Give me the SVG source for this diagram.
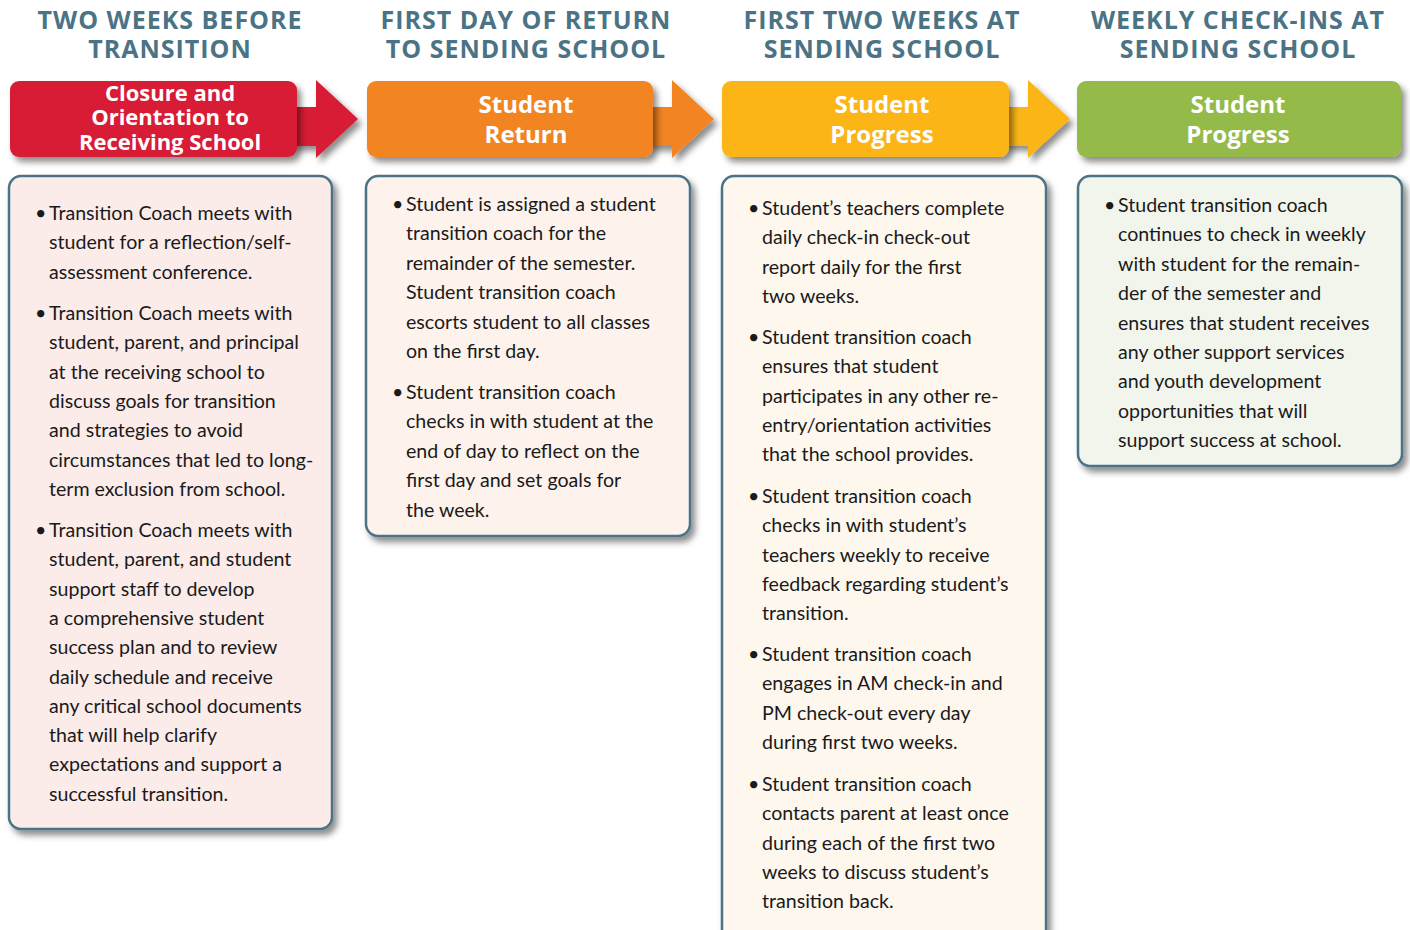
<svg xmlns="http://www.w3.org/2000/svg" width="1410" height="930" viewBox="0 0 1410 930">
<defs>
<filter id="sh" x="-10%" y="-10%" width="125%" height="130%">
<feDropShadow dx="4" dy="5" stdDeviation="3" flood-color="#000" flood-opacity="0.45"/>
</filter>
<style>
.ttl{font-family:"Open Sans","Liberation Sans",sans-serif;font-weight:700;font-size:25px;fill:#4b7386;text-anchor:middle;letter-spacing:1px}
.hd{font-family:"Open Sans","Liberation Sans",sans-serif;font-weight:700;fill:#fff;text-anchor:middle}
.bx{stroke:#4b7386;stroke-width:2.5}
.tx{font-family:Lato,"Liberation Sans",sans-serif;font-size:19.6px;fill:#1a1a1a}
</style>
</defs>
<rect width="1410" height="930" fill="#fff"/>

<g id="titles">
<text class="ttl" x="170" y="29">TWO WEEKS BEFORE<tspan x="170" y="58">TRANSITION</tspan></text>
<text class="ttl" x="526" y="29">FIRST DAY OF RETURN<tspan x="526" y="58">TO SENDING SCHOOL</tspan></text>
<text class="ttl" x="882" y="29">FIRST TWO WEEKS AT<tspan x="882" y="58">SENDING SCHOOL</tspan></text>
<text class="ttl" x="1238" y="29">WEEKLY CHECK-INS AT<tspan x="1238" y="58">SENDING SCHOOL</tspan></text>
</g>

<g id="connectors" filter="url(#sh)">
<path d="M290 107H316V80L358 119L316 158V146H290Z" fill="#d91a35"/>
<path d="M646 107H672V80L714 119L672 158V146H646Z" fill="#f28424"/>
<path d="M1002 107H1028V80L1070 119L1028 158V146H1002Z" fill="#fbb516"/>
</g>

<g id="stage1">
<rect x="10" y="81" width="287" height="76" rx="9" fill="#d91a35" filter="url(#sh)"/>
<text class="hd" font-size="22" x="170" y="101">Closure and<tspan x="170" y="125">Orientation to</tspan><tspan x="170" y="150">Receiving School</tspan></text>
</g>
<g id="stage2">
<rect x="367" y="81" width="286" height="76" rx="9" fill="#f28424" filter="url(#sh)"/>
<text class="hd" font-size="24" x="526" y="113">Student<tspan x="526" y="143">Return</tspan></text>
</g>
<g id="stage3">
<rect x="722" y="81" width="287" height="76" rx="9" fill="#fbb516" filter="url(#sh)"/>
<text class="hd" font-size="24" x="882" y="113">Student<tspan x="882" y="143">Progress</tspan></text>
</g>
<g id="stage4">
<rect x="1077" y="81" width="324" height="76" rx="9" fill="#94ba48" filter="url(#sh)"/>
<text class="hd" font-size="24" x="1238" y="113">Student<tspan x="1238" y="143">Progress</tspan></text>
</g>

<g id="box1">
<rect class="bx" x="9" y="176" width="323" height="653" rx="12" fill="#fbecea" filter="url(#sh)"/>
<text class="tx" x="35" y="220">•<tspan x="35" y="537">•</tspan><tspan x="35" y="320">•</tspan></text>
<text class="tx" x="49" y="220">Transition Coach meets with<tspan x="49" dy="29.3">student for a reflection/self-</tspan><tspan x="49" dy="29.3">assessment conference.</tspan><tspan x="49" y="320">Transition Coach meets with</tspan><tspan x="49" dy="29.3">student, parent, and principal</tspan><tspan x="49" dy="29.3">at the receiving school to</tspan><tspan x="49" dy="29.3">discuss goals for transition</tspan><tspan x="49" dy="29.3">and strategies to avoid</tspan><tspan x="49" dy="29.3">circumstances that led to long-</tspan><tspan x="49" dy="29.3">term exclusion from school.</tspan><tspan x="49" y="537">Transition Coach meets with</tspan><tspan x="49" dy="29.3">student, parent, and student</tspan><tspan x="49" dy="29.3">support staff to develop</tspan><tspan x="49" dy="29.3">a comprehensive student</tspan><tspan x="49" dy="29.3">success plan and to review</tspan><tspan x="49" dy="29.3">daily schedule and receive</tspan><tspan x="49" dy="29.3">any critical school documents</tspan><tspan x="49" dy="29.3">that will help clarify</tspan><tspan x="49" dy="29.3">expectations and support a</tspan><tspan x="49" dy="29.3">successful transition.</tspan></text>
</g>

<g id="box2">
<rect class="bx" x="366" y="176" width="324" height="360" rx="12" fill="#fdf3ec" filter="url(#sh)"/>
<text class="tx" x="392" y="211">•<tspan x="392" y="399">•</tspan></text>
<text class="tx" x="406" y="211">Student is assigned a student<tspan x="406" dy="29.4">transition coach for the</tspan><tspan x="406" dy="29.4">remainder of the semester.</tspan><tspan x="406" dy="29.4">Student transition coach</tspan><tspan x="406" dy="29.4">escorts student to all classes</tspan><tspan x="406" dy="29.4">on the first day.</tspan><tspan x="406" y="399">Student transition coach</tspan><tspan x="406" dy="29.4">checks in with student at the</tspan><tspan x="406" dy="29.4">end of day to reflect on the</tspan><tspan x="406" dy="29.4">first day and set goals for</tspan><tspan x="406" dy="29.4">the week.</tspan></text>
</g>

<g id="box3">
<rect class="bx" x="722" y="176" width="324" height="770" rx="12" fill="#fdf7ee" filter="url(#sh)"/>
<text class="tx" x="748" y="215">•<tspan x="748" y="344">•</tspan><tspan x="748" y="503">•</tspan><tspan x="748" y="661">•</tspan><tspan x="748" y="791">•</tspan></text>
<text class="tx" x="762" y="215">Student’s teachers complete<tspan x="762" dy="29.3">daily check-in check-out</tspan><tspan x="762" dy="29.3">report daily for the first</tspan><tspan x="762" dy="29.3">two weeks.</tspan><tspan x="762" y="344">Student transition coach</tspan><tspan x="762" dy="29.3">ensures that student</tspan><tspan x="762" dy="29.3">participates in any other re-</tspan><tspan x="762" dy="29.3">entry/orientation activities</tspan><tspan x="762" dy="29.3">that the school provides.</tspan><tspan x="762" y="503">Student transition coach</tspan><tspan x="762" dy="29.3">checks in with student’s</tspan><tspan x="762" dy="29.3">teachers weekly to receive</tspan><tspan x="762" dy="29.3">feedback regarding student’s</tspan><tspan x="762" dy="29.3">transition.</tspan><tspan x="762" y="661">Student transition coach</tspan><tspan x="762" dy="29.3">engages in AM check-in and</tspan><tspan x="762" dy="29.3">PM check-out every day</tspan><tspan x="762" dy="29.3">during first two weeks.</tspan><tspan x="762" y="791">Student transition coach</tspan><tspan x="762" dy="29.3">contacts parent at least once</tspan><tspan x="762" dy="29.3">during each of the first two</tspan><tspan x="762" dy="29.3">weeks to discuss student’s</tspan><tspan x="762" dy="29.3">transition back.</tspan></text>
</g>

<g id="box4">
<rect class="bx" x="1078" y="176" width="324" height="290" rx="12" fill="#f2f5ec" filter="url(#sh)"/>
<text class="tx" x="1104" y="212">•</text>
<text class="tx" x="1118" y="212">Student transition coach<tspan x="1118" dy="29.4">continues to check in weekly</tspan><tspan x="1118" dy="29.4">with student for the remain-</tspan><tspan x="1118" dy="29.4">der of the semester and</tspan><tspan x="1118" dy="29.4">ensures that student receives</tspan><tspan x="1118" dy="29.4">any other support services</tspan><tspan x="1118" dy="29.4">and youth development</tspan><tspan x="1118" dy="29.4">opportunities that will</tspan><tspan x="1118" dy="29.4">support success at school.</tspan></text>
</g>
</svg>
